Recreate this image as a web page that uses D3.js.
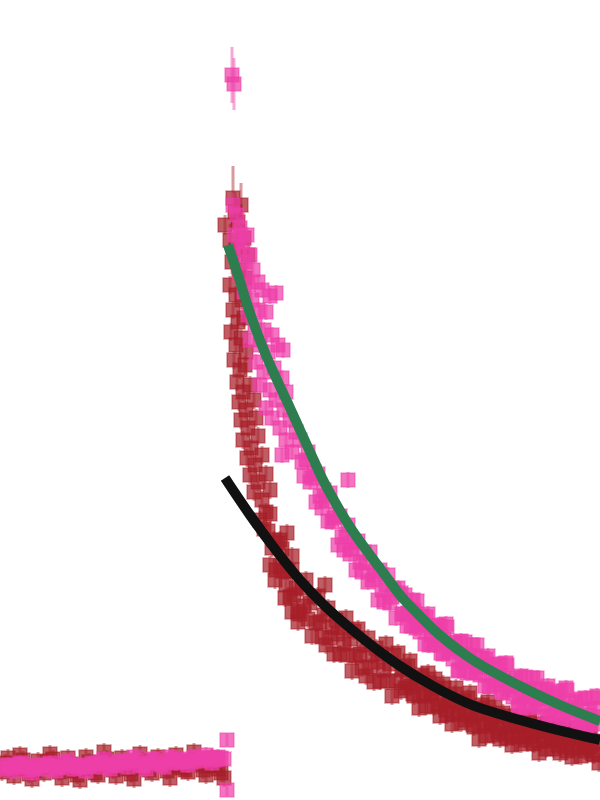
<!DOCTYPE html>
<html>
<head>
<meta charset="utf-8">
<script src="https://cdn.jsdelivr.net/npm/d3@7"></script>
<style>
  html, body { margin: 0; padding: 0; background: #fff; }
  svg { display: block; }
</style>
</head>
<body>
<svg id="chart" width="600" height="800"></svg>
<script>
// baseline (before time zero), shared time grid
const timeBase = [-228,-225,-222,-219,-216,-213,-210,-207,-204,-201,-198,-195,-192,-189,-186,-183,-180,-177,-174,-171,-168,-165,-162,-159,-156,-153,-150,-147,-144,-141,-138,-135,-132,-129,-126,-123,-120,-117,-114,-111,-108,-105,-102,-99,-96,-93,-90,-87,-84,-81,-78,-75,-72,-69,-66,-63,-60,-57,-54,-51,-48,-45,-42,-39,-36,-33,-30,-27,-24,-21,-18,-15,-12,-9,-6];
const sigPinkBase = [-4,-1,0,-3,-6,0,2,1,-2,-5,-8,-3,0,-1,-4,0,2,-1,-6,-3,-2,2,4,0,-4,-2,0,-2,-6,-1,2,1,-2,3,6,1,-4,-1,0,3,4,2,-2,4,8,5,0,-1,-4,2,6,5,2,0,-2,4,8,6,2,3,6,4,0,3,8,7,4,6,10,7,2,5,8,7,6];
const sigRedBase = [-7,2,7,-4,-11,1,10,5,-4,-9,-14,-6,4,-2,-8,3,11,6,-1,-7,-13,-3,7,1,-6,-10,-15,-4,8,3,-3,-8,-10,2,13,6,0,-5,-11,-2,7,2,-4,-9,-14,-2,11,4,-1,-5,-8,0,8,4,1,-6,-13,-1,10,3,-3,-5,-7,4,13,6,0,-5,-10,-1,7,1,-4,-8,-13];

// dark red series after time zero
const timeRed = [
  -5,3,5,8,11,0,6,14,18,2,9,15,0,6,12,3,8,14,1,6,11,16,4,10,15,7,13,20,9,16,24,11,18,26,13,21,28,17,25,32,20,28,36,24,32,40,
  57,62,95,45,55,62,40,68,50,30,
  34,36,38,40,42,44,46,48,50,52,54,56,58,60,62,64,66,68,70,72,74,76,78,80,82,84,86,88,90,92,94,96,98,100,102,104,106,108,110,112,114,116,118,120,122,124,126,128,130,132,134,136,138,140,142,144,146,148,150,152,154,156,158,160,162,164,166,168,
  171,174,177,180,183,186,189,192,195,198,201,204,207,210,213,216,219,222,225,228,231,234,237,240,243,246,249,252,255,258,261,264,267,270,273,276,279,282,285,288,291,294,297,300,303,306,309,312,315,318,321,324,327,330,333,336,339,342,345,348,351,354,357,360,363,366,369,
  172,175,178,181,184,187,190,193,196,199,202,205,208,211,214,217,220,223,226,229,232,235,238,241,244,247,250,253,256,259,262,265,268,271,274,277,280,283,286,289,292,295,298,301,304,307,310,313,316,319,322,325,328,331,334,337,340,343,346,349,352,355,358,361,364,367
];
const sigRed = [
  540,567,553,543,560,525,515,527,510,503,495,487,480,470,465,455,443,447,433,420,427,413,405,395,400,383,373,380,363,355,365,345,337,347,325,317,329,307,300,310,290,283,291,273,265,275,
  232,209,180,185,167,153,200,143,225,245,
  236,253,234,251,217,225,195,222,199,216,194,180,194,168,195,170,177,154,
  151,177,159,185,146,162,129,168,142,169,143,128,150,120,157,127,138,111,145,131,111,137,121,147,110,126,94,134,109,136,111,97,120,89,127,98,110,83,117,103,84,111,95,121,84,101,69,110,84,112,
  74,97,82,104,71,84,57,90,69,92,71,58,76,49,81,55,65,41,71,58,42,64,50,72,40,53,26,60,39,63,42,30,48,26,52,31,39,20,44,34,21,40,28,48,22,35,12,41,24,42,26,16,31,12,38,18,26,8,32,23,9,29,17,37,11,24,2,
  95,77,99,79,69,82,88,71,59,82,72,86,60,65,77,50,66,51,77,52,62,45,67,48,38,51,57,41,29,52,44,58,33,38,49,27,40,28,49,29,39,25,43,29,21,33,38,25,16,34,28,40,20,24,35,14,27,16,37,18,27,14,32,18,10,22
];
const errRedEarly = [10,32,20,18,22,16,14,14,14,12,12,12];
const errRed = 9;

// pink series after time zero
const timePink = [
  -3,-3,2,4,3,7,10,5,13,17,8,20,15,10,23,18,28,14,32,40,22,46,28,18,36,25,34,42,20,30,48,38,53,26,34,44,52,30,40,56,46,36,54,42,60,50,66,56,62,52,
  118,
  70,72,74,76,78,80,82,84,86,88,90,92,94,96,98,100,102,104,106,108,110,112,114,116,118,120,122,124,126,128,130,132,134,136,138,140,142,144,146,148,150,152,154,156,158,160,162,164,166,168,
  171,174,177,180,183,186,189,192,195,198,201,204,207,210,213,216,219,222,225,228,231,234,237,240,243,246,249,252,255,258,261,264,267,270,273,276,279,282,285,288,291,294,297,300,303,306,309,312,315,318,321,324,327,330,333,336,339,342,345,348,351,354,357,360,363,366,369,
  172,175,178,181,184,187,190,193,196,199,202,205,208,211,214,217,220,223,226,229,232,235,238,241,244,247,250,253,256,259,262,265,268,271,274,277,280,283,286,289,292,295,298,301,304,307,310,313,316,319,322,325,328,331,334,337,340,343,346,349,352,355,358,361,364,367
];
const sigPink = [
  25,-25,690,681,560,550,537,530,523,530,515,510,503,490,495,480,483,473,475,469,465,472,455,450,453,440,435,430,425,420,420,413,415,403,393,397,387,380,375,373,365,357,355,347,345,337,333,325,313,310,
  285,
  325,303,289,305,313,283,287,293,263,291,269,257,275,264,244,272,243,247,250,220,249,228,215,231,240,211,216,223,195,224,203,193,212,202,183,213,185,190,194,165,195,175,163,180,190,162,168,176,147,177,
  172,151,139,156,165,137,142,149,121,151,130,120,139,129,111,141,113,119,122,94,124,104,92,110,120,92,99,107,79,109,89,80,100,90,72,102,75,81,85,58,89,69,57,76,87,60,66,75,48,79,60,51,72,63,46,77,50,57,62,35,66,47,36,56,67,41,48,
  151,170,152,139,154,164,133,140,148,120,137,125,140,112,126,138,116,106,123,95,103,123,105,93,109,120,90,98,106,78,97,85,101,73,87,100,78,68,87,60,68,88,71,60,76,87,58,67,76,49,68,57,74,47,62,75,54,45,64,37,46,67,50,40,57,69
];
const errPinkEarly = [6,6,28,26,12,10,10,10];
const errPink = 8;

// fitted curves
const fitGreenT = [-2,8,20,33,47,60,70,81,92,105,120,140,155,170,187,203,237,290,330,370];
const fitGreenV = [520,490,452,417,385,357,335,311,287,263,238,210,190,170,152,136,109,79,60,44];
const fitBlackT = [-5,20,45,70,95,120,145,170,203,237,290,370];
const fitBlackV = [287,250,216,185,159,137,117,99,79,62,45,25];

const width = 600, height = 800;
const svg = d3.select("#chart");

const x = d3.scaleLinear().domain([-230, 370]).range([0, width]);
const y = d3.scaleLinear().domain([0, 700]).range([765, 65]);

const box = 14;

function drawSeries(times, values, errEarly, errDefault, color, cls) {
  const pts = times.map((t, i) => ({
    t: t,
    v: values[i],
    e: i < errEarly.length ? errEarly[i] : errDefault
  }));
  const g = svg.append("g").attr("class", cls);

  g.selectAll("line")
    .data(pts)
    .enter()
    .append("line")
    .attr("x1", (d) => x(d.t))
    .attr("x2", (d) => x(d.t))
    .attr("y1", (d) => y(d.v + d.e))
    .attr("y2", (d) => y(d.v - d.e))
    .attr("stroke", color)
    .attr("stroke-width", 3)
    .attr("stroke-opacity", 0.45);

  g.selectAll("rect")
    .data(pts)
    .enter()
    .append("rect")
    .attr("x", (d) => x(d.t) - box / 2)
    .attr("y", (d) => y(d.v) - box / 2)
    .attr("width", box)
    .attr("height", box)
    .attr("fill", color)
    .attr("fill-opacity", 0.72)
    .attr("stroke", color)
    .attr("stroke-opacity", 0.45)
    .attr("stroke-width", 1.5);
}

drawSeries(timeBase, sigRedBase, [], errRed, "#a61e28", "red-base");
drawSeries(timeRed, sigRed, errRedEarly, errRed, "#a61e28", "red");
drawSeries(timeBase, sigPinkBase, [], errPink, "#ee3ea8", "pink-base");
drawSeries(timePink, sigPink, errPinkEarly, errPink, "#ee3ea8", "pink");

const line = d3.line()
  .x((d) => x(d[0]))
  .y((d) => y(d[1]))
  .curve(d3.curveMonotoneX);

svg.append("path")
  .datum(fitBlackT.map((t, i) => [t, fitBlackV[i]]))
  .attr("d", line)
  .attr("fill", "none")
  .attr("stroke", "#111111")
  .attr("stroke-width", 10);

svg.append("path")
  .datum(fitGreenT.map((t, i) => [t, fitGreenV[i]]))
  .attr("d", line)
  .attr("fill", "none")
  .attr("stroke", "#2e7d4f")
  .attr("stroke-width", 10);
</script>
</body>
</html>
